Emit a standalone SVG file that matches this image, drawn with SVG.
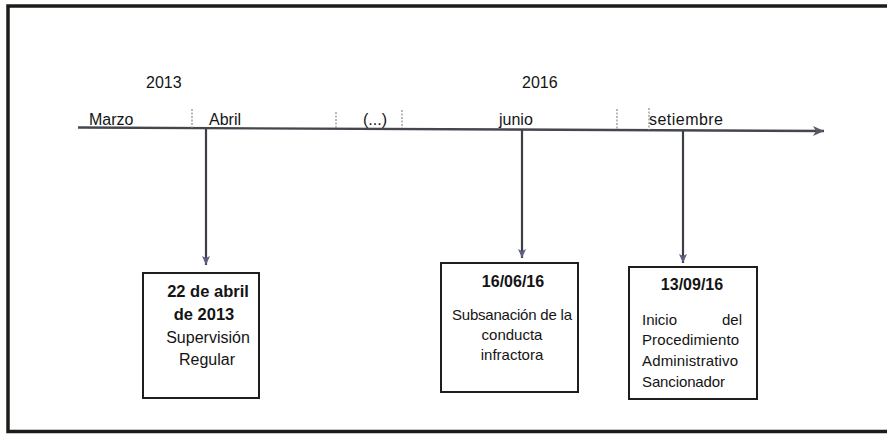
<svg xmlns="http://www.w3.org/2000/svg" width="887" height="434" viewBox="0 0 887 434">
<defs>
<marker id="ah" markerUnits="userSpaceOnUse" markerWidth="10" markerHeight="10" viewBox="0 0 10 10" refX="9" refY="5" orient="auto">
<path d="M0,1 L9,5 L0,9 L2,5 Z" fill="#5c6080"/>
</marker>
<marker id="ahT" markerUnits="userSpaceOnUse" markerWidth="12" markerHeight="12" viewBox="0 0 12 12" refX="11" refY="6" orient="auto">
<path d="M0,1 L11,6 L0,11 L3,6 Z" fill="#55585f"/>
</marker>
<style>
text{font-family:"Liberation Sans",Arial,sans-serif;fill:#141414}
.lbl{font-size:16px}
.bt{font-size:16.5px;font-weight:bold;text-anchor:middle}
.t{font-size:15px}
.tm{font-size:15px;text-anchor:middle}
.box{fill:#fff;stroke:#1e1e1a;stroke-width:2}
.tick{stroke:#8a8a8a;stroke-width:1.2;stroke-dasharray:2,1.5}
.vc{stroke:#3c3e48;stroke-width:2.2;fill:none}
</style>
</defs>
<path d="M889,6 H8 V431.5 H889" fill="none" stroke="#1c1c18" stroke-width="3.5"/>
<g id="timeline">
<text class="lbl" x="146" y="88">2013</text>
<text class="lbl" x="522" y="88">2016</text>
<line x1="78" y1="127.5" x2="824" y2="131" stroke="#45474f" stroke-width="2.4" marker-end="url(#ahT)"/>
<line class="tick" x1="192" y1="109" x2="192" y2="128"/>
<line class="tick" x1="336" y1="112" x2="336" y2="128"/>
<line class="tick" x1="402" y1="110" x2="402" y2="128"/>
<line class="tick" x1="617" y1="109" x2="617" y2="130"/>
<line class="tick" x1="649" y1="108" x2="649" y2="130"/>
<text class="lbl" x="89" y="125">Marzo</text>
<text class="lbl" x="209" y="125">Abril</text>
<text class="lbl" x="363" y="125">(...)</text>
<text class="lbl" x="499" y="125">junio</text>
<text class="lbl" x="649" y="125" textLength="74">setiembre</text>
</g>
<g id="connectors">
<line class="vc" x1="206" y1="129" x2="206" y2="265" marker-end="url(#ah)"/>
<line class="vc" x1="522" y1="130" x2="522" y2="258" marker-end="url(#ah)"/>
<line class="vc" x1="683" y1="131" x2="683" y2="263" marker-end="url(#ah)"/>
</g>
<g id="node1">
<rect class="box" x="143" y="273" width="116" height="125"/>
<text class="bt" x="208" y="297">22 de abril</text>
<text class="bt" x="204" y="320">de 2013</text>
<text class="tm" x="208" y="343" style="font-size:16px">Supervisión</text>
<text class="tm" x="207" y="365" style="font-size:16px">Regular</text>
</g>
<g id="node2">
<rect class="box" x="441" y="263" width="137" height="129"/>
<text class="bt" x="513" y="287" style="font-size:16px">16/06/16</text>
<text class="tm" x="512" y="320" textLength="120">Subsanación de la</text>
<text class="tm" x="512" y="340">conducta</text>
<text class="tm" x="512" y="360">infractora</text>
</g>
<g id="node3">
<rect class="box" x="629" y="267" width="128" height="132"/>
<text class="bt" x="692" y="290" style="font-size:16px">13/09/16</text>
<text class="t" x="642" y="325">Inicio</text>
<text class="t" x="742" y="325" text-anchor="end">del</text>
<text class="t" x="642" y="345" textLength="97">Procedimiento</text>
<text class="t" x="642" y="366" textLength="96">Administrativo</text>
<text class="t" x="642" y="387" textLength="83">Sancionador</text>
</g>
</svg>
